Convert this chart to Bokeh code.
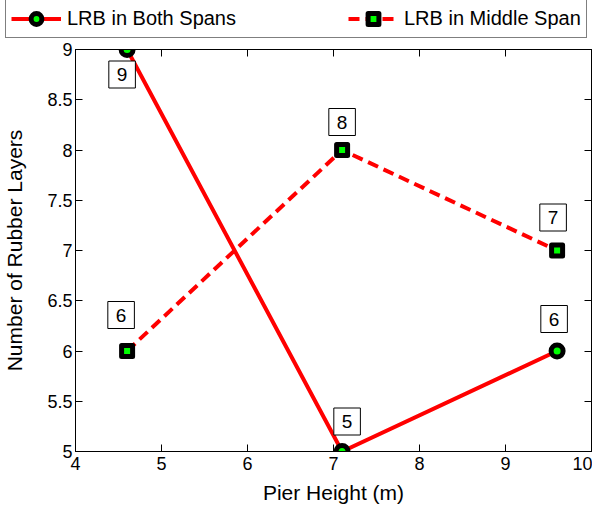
from bokeh.plotting import figure
from bokeh.models import (ColumnDataSource, Legend, LegendItem, LinearAxis,
                          FixedTicker, CustomJSTickFormatter, Range1d)
from bokeh.embed import file_html
from bokeh.resources import INLINE

# ---- data ----
pier_height = [4.6, 7.1, 9.6]
both_spans = [9, 5, 6]
middle_span = [6, 8, 7]
x_ticks = [4, 5, 6, 7, 8, 9, 10]
y_ticks = [5, 5.5, 6, 6.5, 7, 7.5, 8, 8.5, 9]
series_names = ["LRB in Both Spans", "LRB in Middle Span"]

# label box offsets (screen px) - styling only
both_dx = [-5, 5, -3]
both_dy = [25, -30, -32]
mid_dx = [-6, 0, -4]
mid_dy = [-36, -28, -33]

FONT = "Liberation Sans"
RED = "#ff0000"
GREEN = "#00ff00"

line_b = dict(line_color=RED, line_width=4)
line_m = dict(line_color=RED, line_width=4, line_dash="11 6")
mark_b = dict(marker="circle", size=12, fill_color=GREEN, line_color="black", line_width=5)
mark_m = dict(marker="square", size=11, fill_color=GREEN, line_color="black",
              line_width=5, line_join="round")

# ---------------- legend strip (separate root, same series styles, data off-view) ----
leg = figure(width=592, height=38, output_backend="svg", toolbar_location=None,
             x_range=Range1d(0, 1), y_range=Range1d(0, 1),
             x_axis_location=None, y_axis_location=None,
             min_border_left=0, min_border_right=0, min_border_top=0, min_border_bottom=0)
leg.grid.visible = False
leg.outline_line_color = None
leg.background_fill_color = "white"
leg.border_fill_color = "white"

glb = leg.line(pier_height, both_spans, **line_b)
gsb = leg.scatter(pier_height, both_spans, **mark_b)
glm = leg.line(pier_height, middle_span, **line_m)
gsm = leg.scatter(pier_height, middle_span, **mark_m)

legend = Legend(items=[LegendItem(label=series_names[0], renderers=[glb, gsb]),
                       LegendItem(label=series_names[1], renderers=[glm, gsm])],
                orientation="horizontal", location=(5, 0),
                glyph_width=50, glyph_height=27, label_standoff=6, spacing=112,
                padding=5, margin=0, border_line_color="black", border_line_width=1,
                background_fill_color="white", background_fill_alpha=1,
                label_text_font=FONT, label_text_font_size="20px",
                label_text_color="black")
leg.add_layout(legend, "center")

# ---------------- main plot ----------------
p = figure(width=592, height=468, output_backend="svg", toolbar_location=None,
           x_range=Range1d(x_ticks[0], x_ticks[-1]), y_range=Range1d(y_ticks[0], y_ticks[-1]),
           min_border_left=74, min_border_right=1, min_border_top=11,
           min_border_bottom=54)
p.xgrid.visible = False
p.ygrid.visible = False
p.outline_line_color = "black"
p.outline_line_width = 1
p.background_fill_color = "white"
p.border_fill_color = "white"

src_b = ColumnDataSource(dict(x=pier_height, y=both_spans,
                              t=[str(v) for v in both_spans], dx=both_dx, dy=both_dy))
src_m = ColumnDataSource(dict(x=pier_height, y=middle_span,
                              t=[str(v) for v in middle_span], dx=mid_dx, dy=mid_dy))

p.line("x", "y", source=src_b, **line_b)
p.scatter("x", "y", source=src_b, **mark_b)
p.line("x", "y", source=src_m, **line_m)
p.scatter("x", "y", source=src_m, **mark_m)

for src in (src_b, src_m):
    p.text("x", "y", text="t", source=src, x_offset="dx", y_offset="dy",
           text_align="center", text_baseline="middle", text_font_size="19px",
           text_font={"value": FONT}, text_color="black",
           background_fill_color="white", border_line_color="black",
           border_line_width=1, padding=dict(left=8, right=8, top=7, bottom=7))

for ax in (p.xaxis[0], p.yaxis[0]):
    ax.axis_line_color = "black"
    ax.major_tick_line_color = "black"
    ax.major_tick_in = 7
    ax.major_tick_out = 0
    ax.minor_tick_line_color = None
    ax.major_label_text_font = FONT
    ax.major_label_text_font_size = "18px"
    ax.major_label_text_color = "black"
    ax.axis_label_text_font = FONT
    ax.axis_label_text_font_size = "21px"
    ax.axis_label_text_font_style = "normal"
    ax.axis_label_text_color = "black"
    ax.formatter = CustomJSTickFormatter(code="return tick.toString()")

p.xaxis[0].ticker = FixedTicker(ticks=x_ticks)
p.yaxis[0].ticker = FixedTicker(ticks=y_ticks)
p.xaxis[0].axis_label = "Pier Height (m)"
p.yaxis[0].axis_label = "Number of Rubber Layers"
p.xaxis[0].major_label_standoff = 5
p.yaxis[0].major_label_standoff = 3
p.xaxis[0].axis_label_standoff = 8
p.yaxis[0].axis_label_standoff = 18

# mirrored tick axes
top = LinearAxis(ticker=FixedTicker(ticks=x_ticks), major_label_text_font_size="0px",
                 major_tick_in=7, major_tick_out=0, minor_tick_line_color=None,
                 major_label_standoff=0, axis_line_color="black")
right = LinearAxis(ticker=FixedTicker(ticks=y_ticks), major_label_text_font_size="0px",
                   major_tick_in=7, major_tick_out=0, minor_tick_line_color=None,
                   major_label_standoff=0, axis_line_color="black")
p.add_layout(top, "above")
p.add_layout(right, "right")

open("out.html", "w").write(file_html([leg, p], INLINE))
